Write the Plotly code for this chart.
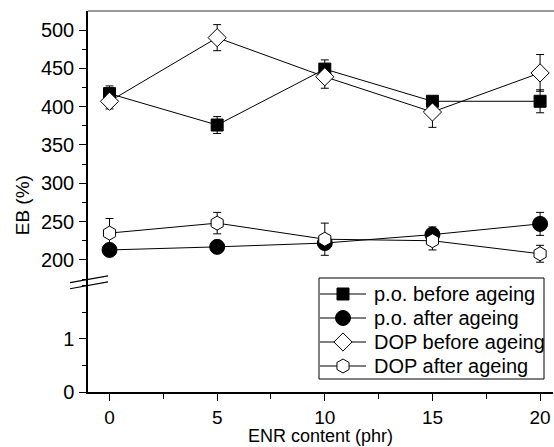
import plotly.graph_objects as go

# ENR content (phr)
enr = [0, 5, 10, 15, 20]

# Elongation at break (%) and standard deviations
po_before = [417, 376, 449, 407, 407]
po_before_err = [10, 11, 12, 6, 15]
po_after = [213, 217, 222, 233, 247]
po_after_err = [4, 4, 8, 10, 15]
dop_before = [407, 490, 439, 393, 444]
dop_before_err = [10, 17, 15, 20, 24]
dop_after = [235, 248, 227, 225, 208]
dop_after_err = [19, 14, 21, 12, 11]

series_names = ["p.o. before ageing", "p.o. after ageing",
                "DOP before ageing", "DOP after ageing"]

FONT = "Liberation Sans, Arial, sans-serif"

# plot area in page pixels (used by the overlay axes for the key box)
PLOT_L, PLOT_R, PLOT_T, PLOT_B = 88, 553, 11, 392

fig = go.Figure()

styles = [
    (po_before, po_before_err, "square", 12, "black"),
    (po_after, po_after_err, "circle", 15, "black"),
    (dop_before, dop_before_err, "diamond", 14, "white"),
    (dop_after, dop_after_err, "hexagon", 14, "white"),
]

# empty trace so the lower (0..2) segment of the broken axis is built
fig.add_trace(go.Scatter(x=[], y=[], xaxis="x", yaxis="y",
                         showlegend=False, hoverinfo="skip"))

for name, (vals, errs, sym, size, fill) in zip(series_names, styles):
    fig.add_trace(go.Scatter(
        x=enr, y=vals, name=name, mode="lines+markers",
        xaxis="x", yaxis="y2", showlegend=False,
        line=dict(color="black", width=1),
        marker=dict(symbol=sym, size=size, color=fill,
                    line=dict(color="black", width=1)),
        error_y=dict(type="data", array=errs, visible=True,
                     color="black", thickness=1, width=4),
    ))

# key: line sample + marker + label for each series, drawn on an overlay
# subplot whose axes run in page pixels
key_left, key_right, key_top, key_bottom = 319, 544, 278, 379
row_y = [294, 318, 342, 366]
sample_x0, sample_x1, sample_xm, label_x = 320, 366, 343, 372

fig.add_shape(type="rect", xref="x2", yref="y3", layer="below",
              x0=key_left, x1=key_right, y0=key_top, y1=key_bottom,
              line=dict(color="black", width=1), fillcolor="white")

for name, (vals, errs, sym, size, fill), ry in zip(series_names, styles, row_y):
    fig.add_trace(go.Scatter(
        x=[sample_x0, sample_x1], y=[ry, ry], mode="lines",
        xaxis="x2", yaxis="y3", showlegend=False, hoverinfo="skip",
        line=dict(color="black", width=1)))
    fig.add_trace(go.Scatter(
        x=[sample_xm], y=[ry], mode="markers",
        xaxis="x2", yaxis="y3", showlegend=False, hoverinfo="skip",
        marker=dict(symbol=sym, size=size, color=fill,
                    line=dict(color="black", width=1))))
    fig.add_annotation(text=name, xref="x2", yref="y3", x=label_x, y=ry,
                       xanchor="left", yanchor="middle", showarrow=False,
                       font=dict(family=FONT, size=20, color="black"))

# broken axis: lower segment 0..~2, upper segment ~171..525
split = 0.289
axis_common = dict(
    showline=True, linecolor="black", linewidth=1.5,
    ticks="outside", ticklen=7, tickwidth=1.2, tickcolor="black",
    showgrid=False, zeroline=False,
)
yfont = dict(family=FONT, size=20, color="black")
xfont = dict(family=FONT, size=19, color="black")

fig.update_layout(
    width=554, height=447,
    margin=dict(l=PLOT_L, r=554 - PLOT_R, t=PLOT_T, b=447 - PLOT_B),
    plot_bgcolor="rgba(0,0,0,0)", paper_bgcolor="white",
    font=dict(family=FONT, color="black"),
    showlegend=False,
    xaxis=dict(range=[-1, 20.6], tickvals=enr, anchor="y", tickfont=xfont,
               minor=dict(dtick=2.5, ticklen=5, tickcolor="black",
                          ticks="outside", tickwidth=1.2),
               **axis_common),
    yaxis=dict(domain=[0, split], range=[0, 2.07], tickvals=[0, 1],
               anchor="x", ticklabelstandoff=1, tickfont=yfont,
               minor=dict(dtick=0.5, ticklen=4, tickcolor="black",
                          ticks="outside", tickwidth=1.2),
               **axis_common),
    yaxis2=dict(domain=[split, 1], range=[171.3, 524.8],
                tickvals=[200, 250, 300, 350, 400, 450, 500],
                anchor="x", ticklabelstandoff=1, tickfont=yfont,
                minor=dict(dtick=25, ticklen=4, tickcolor="black",
                           ticks="outside", tickwidth=1.2),
                **axis_common),
    xaxis2=dict(domain=[0, 1], range=[PLOT_L, PLOT_R], anchor="y3",
                visible=False, fixedrange=True),
    yaxis3=dict(domain=[0, 1], range=[PLOT_B, PLOT_T], anchor="x2",
                visible=False, fixedrange=True),
)

# top frame line
fig.add_shape(type="line", xref="paper", yref="paper",
              x0=0, x1=1.01, y0=1, y1=1,
              line=dict(color="#777777", width=1.5))

# break marks on the y axis
for dy in (0.0, 0.016):
    fig.add_shape(type="line", xref="paper", yref="paper",
                  x0=-0.0387, y0=0.271 + dy, x1=0.0430, y1=0.289 + dy,
                  line=dict(color="black", width=1.2))

# axis titles
fig.add_annotation(text="ENR content (phr)", xref="paper", yref="paper",
                   x=0.5, y=-0.116, xanchor="center", yanchor="middle",
                   showarrow=False, font=dict(family=FONT, size=18))
fig.add_annotation(text="EB (%)", xref="paper", yref="paper",
                   x=-0.142, y=0.49, xanchor="center", yanchor="middle",
                   textangle=-90, showarrow=False,
                   font=dict(family=FONT, size=19))

fig.write_html("out.html")
